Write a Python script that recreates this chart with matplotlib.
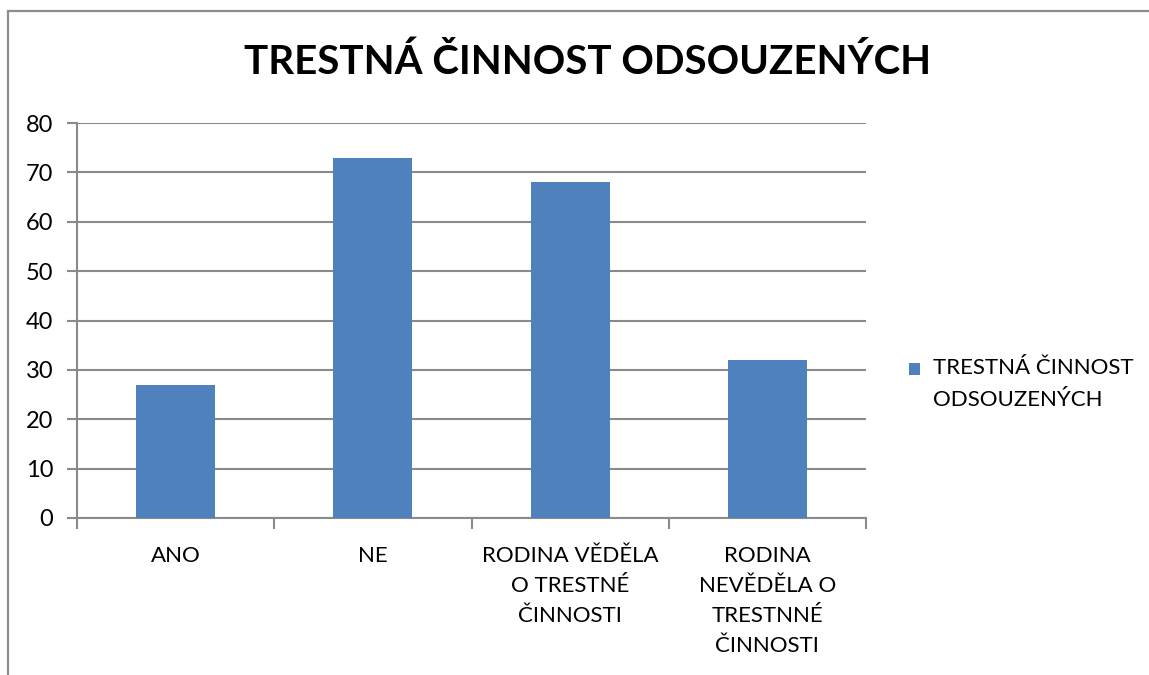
import matplotlib
matplotlib.use("Agg")
import matplotlib.pyplot as plt
from matplotlib.patches import Rectangle

categories = [
    "ANO",
    "NE",
    "RODINA VĚDĚLA\nO TRESTNÉ\nČINNOSTI",
    "RODINA\nNEVĚDĚLA O\nTRESTNNÉ\nČINNOSTI",
]
values = [27, 73, 68, 32]
series_name = "TRESTNÁ ČINNOST\nODSOUZENÝCH"
title = "TRESTNÁ ČINNOST ODSOUZENÝCH"
y_ticks = [0, 10, 20, 30, 40, 50, 60, 70, 80]

W, H = 1149, 675
plt.rcParams["font.family"] = ["Lato", "DejaVu Sans"]

fig = plt.figure(figsize=(W / 100, H / 100), dpi=100)
fig.patch.set_facecolor("white")

# chart frame (clipped at right/bottom like the screenshot)
fig.patches.append(Rectangle((8 / W, -0.1), 1.2, (H - 11) / H + 0.1,
                             transform=fig.transFigure, fill=False,
                             edgecolor="#8c8c8c", linewidth=1.6))

left, right, top, bottom = 77, 866, 123, 518
ax = fig.add_axes([left / W, 1 - bottom / H, (right - left) / W, (bottom - top) / H])

grid_color = "#8a8a8a"
x = list(range(len(categories)))
ax.bar(x, values, width=0.4, color="#4F81BD", zorder=3, label=series_name)

ax.set_xlim(-0.5, len(categories) - 0.5)
ax.set_ylim(0, 80)
ax.set_yticks(y_ticks)
ax.yaxis.grid(True, color=grid_color, linewidth=1.5, zorder=0)
ax.tick_params(axis="y", length=7, width=1.5, color=grid_color,
               labelsize=17, pad=10, labelcolor="black")

ax.set_xticks([i - 0.5 for i in range(len(categories) + 1)])
ax.set_xticklabels([])
ax.set_xticks(x, minor=True)
ax.set_xticklabels(categories, minor=True, fontsize=16, linespacing=1.64, va="top")
ax.tick_params(axis="x", which="major", length=8, width=1.5, color=grid_color)
ax.tick_params(axis="x", which="minor", length=0, pad=20)

for side in ["top", "right"]:
    ax.spines[side].set_visible(False)
for side in ["left", "bottom"]:
    ax.spines[side].set_color(grid_color)
    ax.spines[side].set_linewidth(1.5)

fig.text(588 / W, 1 - 62 / H, title, ha="center", va="center",
         fontsize=29, fontweight="bold")

leg = ax.legend(loc="upper left", bbox_to_anchor=(909 / W, 1 - 358 / H),
                bbox_transform=fig.transFigure, frameon=False, fontsize=16,
                handlelength=0.5, handleheight=0.5, handletextpad=0.6,
                borderaxespad=0, borderpad=0)
for t in leg.get_texts():
    t.set_linespacing(1.75)
# Excel puts the marker next to the first line of a wrapped entry
for h in leg.legend_handles:
    h.set_y(h.get_y() + 11)

fig.savefig("out.png", dpi=100)
